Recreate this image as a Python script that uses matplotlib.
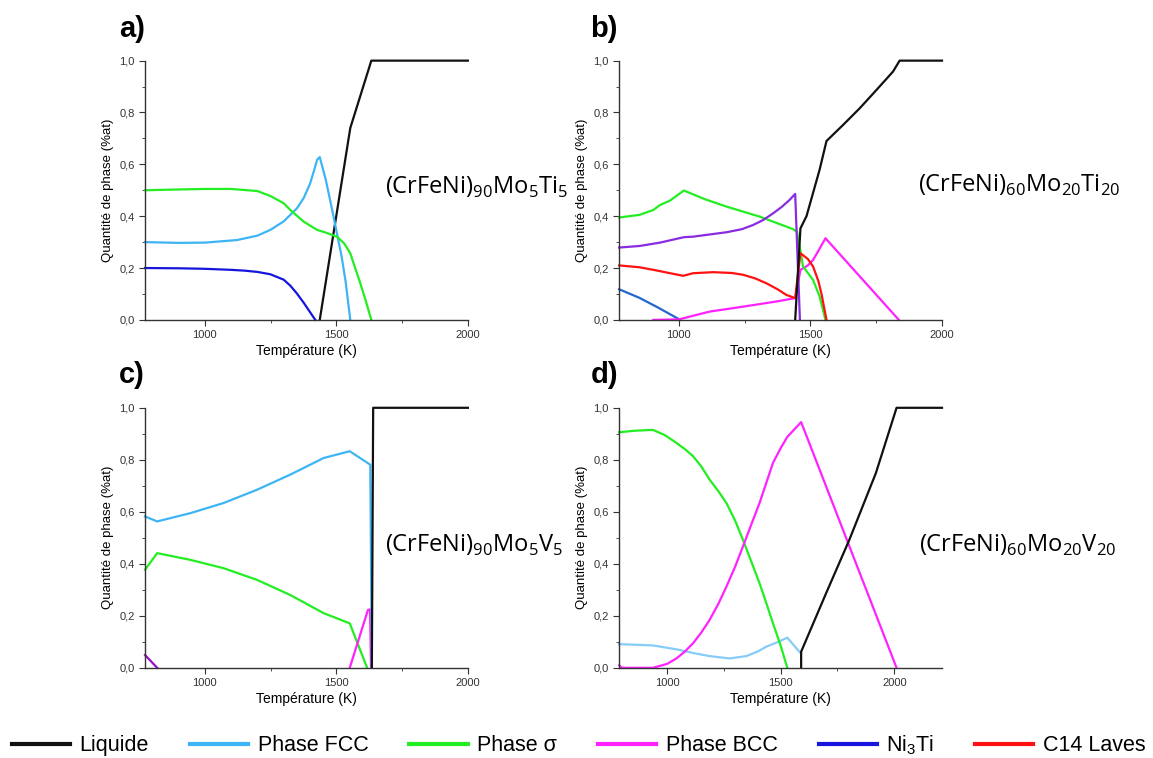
import matplotlib
matplotlib.use("Agg")
import matplotlib.pyplot as plt
from matplotlib.lines import Line2D
from matplotlib.ticker import MultipleLocator, FuncFormatter

plt.rcParams["font.family"] = ["Liberation Sans", "DejaVu Sans"]

# ---- colours ----
C_LIQ = "#111111"
C_FCC = "#3db5f5"
C_FCC_D = "#86ccf7"
C_SIG = "#22ee22"
C_BCC = "#ff22ff"
C_NI3TI = "#1515dd"
C_C14 = "#ff1111"
C_PURPLE = "#8a2be2"
C_BLUE_B = "#2266d0"

# ---- a) (CrFeNi)90Mo5Ti5 ----
a_liq_T = [1437, 1553, 1633, 2000]
a_liq_y = [0.0, 0.74, 1.0, 1.0]
a_fcc_T = [773, 900, 1000, 1123, 1200, 1249, 1300, 1350, 1376, 1400, 1415, 1427, 1437,
           1460, 1485, 1503, 1520, 1535, 1553]
a_fcc_y = [0.300, 0.297, 0.298, 0.308, 0.325, 0.347, 0.380, 0.430, 0.470, 0.525, 0.575,
           0.618, 0.628, 0.540, 0.420, 0.330, 0.245, 0.150, 0.0]
a_sig_T = [773, 900, 1000, 1100, 1200, 1249, 1300, 1325, 1376, 1427, 1465, 1503, 1530,
           1553, 1570, 1590, 1610, 1633]
a_sig_y = [0.500, 0.503, 0.505, 0.505, 0.497, 0.478, 0.450, 0.424, 0.379, 0.347, 0.335,
           0.320, 0.295, 0.257, 0.205, 0.145, 0.080, 0.0]
a_ni3ti_T = [773, 900, 1000, 1100, 1150, 1200, 1249, 1300, 1325, 1350, 1376, 1400, 1420]
a_ni3ti_y = [0.200, 0.199, 0.197, 0.193, 0.190, 0.185, 0.176, 0.155, 0.132, 0.102, 0.066,
             0.030, 0.0]

# ---- b) (CrFeNi)60Mo20Ti20 ----
b_liq_T = [1442, 1462, 1485, 1510, 1535, 1561, 1624, 1687, 1751, 1814, 1839, 2000]
b_liq_y = [0.0, 0.353, 0.40, 0.49, 0.58, 0.69, 0.752, 0.816, 0.887, 0.958, 1.0, 1.0]
b_sig_T = [773, 850, 903, 928, 966, 1019, 1100, 1181, 1308, 1434, 1449, 1472, 1510, 1535, 1557]
b_sig_y = [0.395, 0.405, 0.424, 0.443, 0.460, 0.499, 0.465, 0.437, 0.398, 0.350, 0.340,
           0.206, 0.154, 0.090, 0.0]
b_purp_T = [773, 850, 928, 1019, 1054, 1181, 1240, 1282, 1320, 1358, 1390, 1420, 1442, 1460]
b_purp_y = [0.279, 0.285, 0.298, 0.319, 0.321, 0.338, 0.350, 0.366, 0.385, 0.411, 0.435,
            0.462, 0.486, 0.0]
b_c14_T = [773, 850, 903, 1016, 1054, 1130, 1200, 1244, 1290, 1333, 1375, 1409, 1442,
           1462, 1490, 1510, 1530, 1542, 1561]
b_c14_y = [0.210, 0.203, 0.193, 0.170, 0.180, 0.184, 0.181, 0.174, 0.160, 0.141, 0.118,
           0.096, 0.084, 0.257, 0.235, 0.206, 0.150, 0.100, 0.0]
b_blue_T = [773, 850, 920, 1005]
b_blue_y = [0.118, 0.085, 0.048, 0.0]
b_bcc_T = [903, 1000, 1016, 1117, 1244, 1371, 1442, 1462, 1490, 1510, 1535, 1557, 1836]
b_bcc_y = [0.0, 0.002, 0.006, 0.032, 0.051, 0.071, 0.084, 0.193, 0.210, 0.231, 0.275,
           0.315, 0.0]

# ---- c) (CrFeNi)90Mo5V5 ----
c_liq_T = [1635, 1640, 2000]
c_liq_y = [0.0, 1.0, 1.0]
c_fcc_T = [773, 819, 946, 1072, 1199, 1325, 1452, 1551, 1629, 1635]
c_fcc_y = [0.582, 0.563, 0.595, 0.634, 0.685, 0.743, 0.807, 0.833, 0.781, 0.0]
c_sig_T = [773, 819, 946, 1072, 1199, 1325, 1452, 1551, 1617]
c_sig_y = [0.377, 0.441, 0.415, 0.383, 0.338, 0.280, 0.210, 0.171, 0.0]
c_bcc_T = [1551, 1620, 1628, 1632]
c_bcc_y = [0.0, 0.222, 0.225, 0.0]
c_purp_T = [773, 819]
c_purp_y = [0.049, 0.0]

# ---- d) (CrFeNi)60Mo20V20 ----
d_liq_T = [1590, 1590, 1700, 1802, 1919, 2010, 2210]
d_liq_y = [0.0, 0.062, 0.287, 0.492, 0.749, 1.0, 1.0]
d_sig_T = [789, 860, 938, 990, 1041, 1080, 1114, 1150, 1187, 1225, 1261, 1300, 1334,
           1370, 1407, 1440, 1466, 1500, 1529]
d_sig_y = [0.906, 0.912, 0.915, 0.895, 0.865, 0.840, 0.814, 0.775, 0.724, 0.680, 0.634,
           0.565, 0.492, 0.410, 0.325, 0.240, 0.171, 0.085, 0.0]
d_bcc_T = [789, 800, 938, 1000, 1041, 1075, 1114, 1150, 1187, 1225, 1261, 1300, 1334,
           1370, 1407, 1440, 1466, 1500, 1529, 1590, 2010]
d_bcc_y = [0.010, 0.0, 0.0, 0.015, 0.036, 0.060, 0.094, 0.135, 0.184, 0.245, 0.312, 0.390,
           0.467, 0.550, 0.634, 0.720, 0.788, 0.845, 0.888, 0.945, 0.0]
d_fcc_T = [789, 938, 1041, 1120, 1187, 1275, 1349, 1400, 1436, 1490, 1529, 1586]
d_fcc_y = [0.091, 0.086, 0.071, 0.056, 0.045, 0.036, 0.045, 0.063, 0.081, 0.100, 0.116, 0.058]

panels = [
    ("a)", [0.1258, 0.578, 0.280, 0.342], (773, 2000), [1000, 1500, 2000],
     [(a_liq_T, a_liq_y, C_LIQ), (a_fcc_T, a_fcc_y, C_FCC), (a_sig_T, a_sig_y, C_SIG),
      (a_ni3ti_T, a_ni3ti_y, C_NI3TI)],
     r"(CrFeNi)$_\mathregular{90}$Mo$_\mathregular{5}$Ti$_\mathregular{5}$",
     (0.334, 0.753), (0.1145, 0.962)),
    ("b)", [0.537, 0.578, 0.280, 0.342], (773, 2000), [1000, 1500, 2000],
     [(b_blue_T, b_blue_y, C_BLUE_B), (b_bcc_T, b_bcc_y, C_BCC), (b_sig_T, b_sig_y, C_SIG),
      (b_purp_T, b_purp_y, C_PURPLE), (b_c14_T, b_c14_y, C_C14), (b_liq_T, b_liq_y, C_LIQ)],
     r"(CrFeNi)$_\mathregular{60}$Mo$_\mathregular{20}$Ti$_\mathregular{20}$",
     (0.796, 0.756), (0.524, 0.962)),
    ("c)", [0.1258, 0.119, 0.280, 0.343], (773, 2000), [1000, 1500, 2000],
     [(c_purp_T, c_purp_y, "#9a10c8"), (c_sig_T, c_sig_y, C_SIG), (c_bcc_T, c_bcc_y, C_BCC),
      (c_fcc_T, c_fcc_y, C_FCC), (c_liq_T, c_liq_y, C_LIQ)],
     r"(CrFeNi)$_\mathregular{90}$Mo$_\mathregular{5}$V$_\mathregular{5}$",
     (0.334, 0.281), (0.1145, 0.505)),
    ("d)", [0.537, 0.119, 0.280, 0.343], (789, 2210), [1000, 1500, 2000],
     [(d_fcc_T, d_fcc_y, C_FCC_D), (d_sig_T, d_sig_y, C_SIG), (d_bcc_T, d_bcc_y, C_BCC),
      (d_liq_T, d_liq_y, C_LIQ)],
     r"(CrFeNi)$_\mathregular{60}$Mo$_\mathregular{20}$V$_\mathregular{20}$",
     (0.797, 0.281), (0.524, 0.505)),
]

comma = FuncFormatter(lambda v, p: f"{v:.1f}".replace(".", ","))

fig = plt.figure(figsize=(11.53, 7.58), dpi=100)

for tag, rect, xlim, xt, series, label, lpos, tpos in panels:
    ax = fig.add_axes(rect)
    for T, y, col in series:
        ax.plot(T, y, color=col, lw=1.6, clip_on=False)
    ax.set_xlim(*xlim)
    ax.set_ylim(0, 1.0)
    ax.set_xticks(xt)
    ax.xaxis.set_minor_locator(MultipleLocator(250))
    ax.yaxis.set_major_locator(MultipleLocator(0.2))
    ax.yaxis.set_minor_locator(MultipleLocator(0.1))
    ax.yaxis.set_major_formatter(comma)
    ax.spines["top"].set_visible(False)
    ax.spines["right"].set_visible(False)
    for s in ("left", "bottom"):
        ax.spines[s].set_linewidth(1.0)
        ax.spines[s].set_color("#333333")
    ax.tick_params(which="both", direction="out", colors="#333333", labelsize=8)
    ax.tick_params(which="major", length=4)
    ax.tick_params(which="minor", length=2.5)
    ax.set_xlabel("Température (K)", fontsize=10, labelpad=3)
    ax.set_ylabel("Quantité de phase (%at)", fontsize=9.5, labelpad=4)
    fig.text(tpos[0], tpos[1], tag, fontsize=21, fontweight="bold",
             ha="center", va="center")
    fig.text(lpos[0], lpos[1], label, fontsize=17, family=["Open Sans", "DejaVu Sans"],
             ha="left", va="center")

leg_names = ["Liquide", "Phase FCC", "Phase \u03c3", "Phase BCC",
             r"Ni$_\mathregular{3}$Ti", "C14 Laves"]
leg_cols = [C_LIQ, C_FCC, C_SIG, C_BCC, C_NI3TI, C_C14]
handles = [Line2D([], [], color=c, lw=3) for c in leg_cols]
fig.legend(handles, leg_names, loc="center", bbox_to_anchor=(0.502, 0.017),
           ncol=6, frameon=False, handlelength=2.7, handletextpad=0.45,
           columnspacing=1.9, borderpad=0, borderaxespad=0,
           prop={"family": ["Liberation Sans", "DejaVu Sans"], "size": 15.5})

fig.savefig("out.png", dpi=100)
